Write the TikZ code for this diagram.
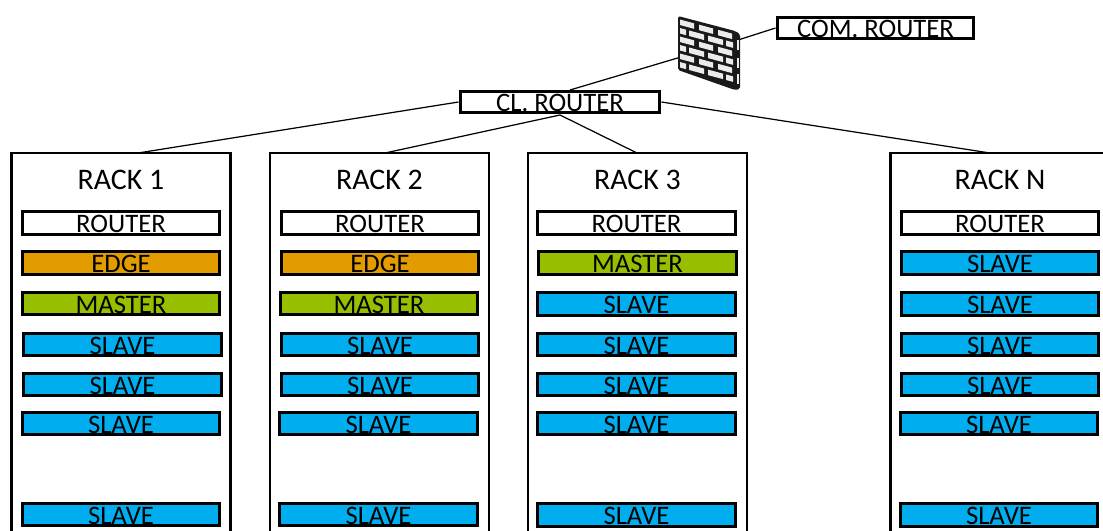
\documentclass[tikz,border=0pt]{standalone}
\usepackage{fontspec}
\setmainfont{Carlito}
\usepackage{pgf, tikz}
\definecolor{edgeorange}{HTML}{E29C00}
\definecolor{mastergreen}{HTML}{97BF00}
\definecolor{slaveblue}{HTML}{00AEEF}
\pgfdeclarelayer{edgelayer}
\pgfdeclarelayer{nodelayer}
\pgfsetlayers{edgelayer,nodelayer,main}
\tikzstyle{none}=[inner sep=0pt]
\tikzstyle{title}=[inner sep=0pt, font=\fontsize{17}{19}\selectfont]
\tikzstyle{edge}=[draw=black, line width=0.7pt]
\tikzstyle{unit}=[draw=black, line width=1.7pt, minimum width=3.96cm, minimum height=0.45cm, inner sep=0pt, text height=11pt, text depth=0pt, font=\fontsize{15.2}{17}\selectfont]
\tikzstyle{router}=[style=unit, fill=white]
\tikzstyle{edgeunit}=[style=unit, fill=edgeorange]
\tikzstyle{master}=[style=unit, fill=mastergreen]
\tikzstyle{slave}=[style=unit, fill=slaveblue]
\tikzstyle{rack}=[draw=black, line width=1.5pt, minimum width=4.38cm, minimum height=7.84cm]
\tikzstyle{top}=[draw=black, line width=1.7pt, fill=white, minimum height=0.43cm, inner sep=0pt, text height=11pt, text depth=0pt, font=\fontsize{15.2}{17}\selectfont]
\tikzstyle{brick}=[fill=white!92!black]

\begin{document}
\begin{tikzpicture}[x=0.02cm, y=-0.02cm]
	\useasboundingbox (0, 0) rectangle (1103, 531);
	\begin{pgfonlayer}{nodelayer}
		\node [style=top, minimum width=3.94cm] (0) at (875.5, 28) {COM. ROUTER};
		\node [style=top, minimum width=4cm] (1) at (560, 102) {CL. ROUTER};
		\node [style=none] (2) at (738, 40) {};
		\node [style=none] (3) at (681, 57) {};
		\node [style=none] (4) at (570, 90) {};
		\node [style=none] (5) at (560, 115) {};

		\node [style=rack] (10) at (121, 349) {};
		\node [style=none] (11) at (138, 153) {};
		\node [style=title] (12) at (121, 179.5) {RACK 1};
		\node [style=router] (13) at (121, 223) {ROUTER};
		\node [style=edgeunit] (14) at (121, 263) {EDGE};
		\node [style=master] (15) at (121, 303.5) {MASTER};
		\node [style=slave] (16) at (122.5, 344.5) {SLAVE};
		\node [style=slave] (17) at (122.5, 384.5) {SLAVE};
		\node [style=slave] (18) at (121, 423.5) {SLAVE};
		\node [style=slave] (19) at (121, 514.5) {SLAVE};

		\node [style=rack] (20) at (379.5, 349) {};
		\node [style=none] (21) at (385, 153) {};
		\node [style=title] (22) at (379.5, 179.5) {RACK 2};
		\node [style=router] (23) at (380, 223) {ROUTER};
		\node [style=edgeunit] (24) at (380, 263) {EDGE};
		\node [style=master] (25) at (379, 303.5) {MASTER};
		\node [style=slave] (26) at (380, 344.5) {SLAVE};
		\node [style=slave] (27) at (380, 384.5) {SLAVE};
		\node [style=slave] (28) at (378.5, 423.5) {SLAVE};
		\node [style=slave] (29) at (378.5, 514.5) {SLAVE};

		\node [style=rack] (30) at (637.5, 349) {};
		\node [style=none] (31) at (637, 153) {};
		\node [style=title] (32) at (637.5, 179.5) {RACK 3};
		\node [style=router] (33) at (636.5, 223) {ROUTER};
		\node [style=master] (34) at (637.5, 263) {MASTER};
		\node [style=slave] (35) at (636.5, 304) {SLAVE};
		\node [style=slave] (36) at (636.5, 344.5) {SLAVE};
		\node [style=slave] (37) at (636.5, 384.5) {SLAVE};
		\node [style=slave] (38) at (636.5, 423.5) {SLAVE};
		\node [style=slave] (39) at (636.5, 515) {SLAVE};

		\node [style=rack] (40) at (1000, 349) {};
		\node [style=none] (41) at (990, 153) {};
		\node [style=title] (42) at (1000, 179.5) {RACK N};
		\node [style=router] (43) at (1000, 223) {ROUTER};
		\node [style=slave] (44) at (1000, 263) {SLAVE};
		\node [style=slave] (45) at (1000, 304) {SLAVE};
		\node [style=slave] (46) at (1000, 344.5) {SLAVE};
		\node [style=slave] (47) at (1000, 384.5) {SLAVE};
		\node [style=slave] (48) at (999, 423.5) {SLAVE};
		\node [style=slave] (49) at (999, 515) {SLAVE};
	\end{pgfonlayer}
	\begin{pgfonlayer}{edgelayer}
		\draw [style=edge] (0.west) to (2.center);
		\draw [style=edge] (3.center) to (4.center);
		\draw [style=edge] (1.west) to (11.center);
		\draw [style=edge] (5.center) to (21.center);
		\draw [style=edge] (5.center) to (31.center);
		\draw [style=edge] (1.east) to (41.center);
	\end{pgfonlayer}
	\fill [black!90, rounded corners=1pt] (678, 16) -- (735, 31) -- (740, 34) -- (740, 89) -- (735, 90) -- (678, 70) -- cycle;
	\begin{scope}[shift={(678, 17)}, yslant=-0.27]
		\foreach \row in {0, 2, 4} {
			\foreach \col in {2, 21, 40}
				\fill [style=brick] (\col, 2+\row*8.5) rectangle ++(14, 5.5);
			\foreach \col in {-7, 11, 30, 48}
				\fill [style=brick] ({max(\col,2)}, 10.5+\row*8.5) rectangle ({min(\col+15,55)}, 16+\row*8.5);
		}
	\end{scope}
	\fill [style=brick] (736.5, 40) rectangle (738.5, 50);
	\fill [style=brick] (736.5, 58) rectangle (738.5, 68);
	\fill [style=brick] (736.5, 74) rectangle (738.5, 84);
\end{tikzpicture}
\end{document}
